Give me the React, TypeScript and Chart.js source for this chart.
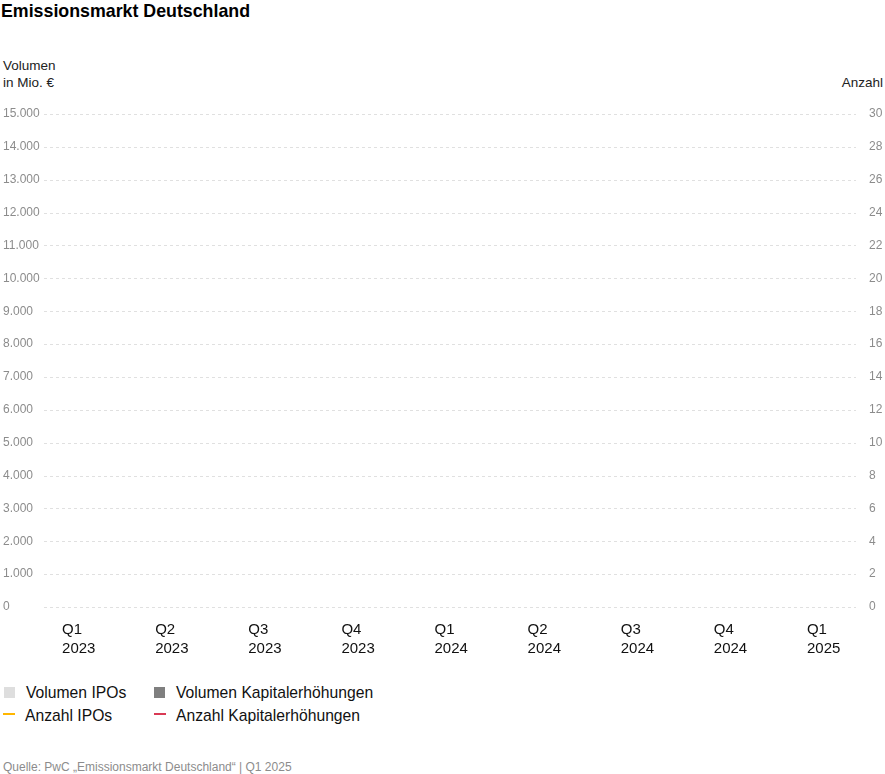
import React, { useEffect, useRef } from "react";
import { Chart, registerables } from "chart.js";

Chart.register(...registerables);

const FONT = '"Liberation Sans", Arial, Helvetica, sans-serif';

// Categories (quarters)
const quarters: string[] = ["Q1", "Q2", "Q3", "Q4", "Q1", "Q2", "Q3", "Q4", "Q1"];
const years: string[] = ["2023", "2023", "2023", "2023", "2024", "2024", "2024", "2024", "2025"];

// Series values as shown in the reference (nothing is drawn there)
const volumenIPOs: (number | null)[] = [null, null, null, null, null, null, null, null, null];
const volumenKapitalerhoehungen: (number | null)[] = [null, null, null, null, null, null, null, null, null];
const anzahlIPOs: (number | null)[] = [null, null, null, null, null, null, null, null, null];
const anzahlKapitalerhoehungen: (number | null)[] = [null, null, null, null, null, null, null, null, null];

// Axis ranges / steps
const volumeMax = 15000;
const volumeStep = 1000;
const countMax = 30;
const countStep = 2;

const seriesNames = ["Volumen IPOs", "Volumen Kapitalerhöhungen", "Anzahl IPOs", "Anzahl Kapitalerhöhungen"];
const seriesColors = ["#dedede", "#7f7f7f", "#ffb600", "#d93954"];

const fmtDE = (v: number) => String(v).replace(/\B(?=(\d{3})+(?!\d))/g, ".");

const dashedGrid = {
  id: "dashedGrid",
  beforeDatasetsDraw(chart: any) {
    const y = chart.scales.y;
    const ctx = chart.ctx;
    const { left, right } = chart.chartArea;
    ctx.save();
    ctx.strokeStyle = "#e0e0e0";
    ctx.lineWidth = 1;
    ctx.setLineDash([3, 3]);
    y.ticks.forEach((_t: any, i: number) => {
      const py = Math.round(y.getPixelForTick(i)) + 0.5;
      ctx.beginPath();
      ctx.moveTo(left + 13, py);
      ctx.lineTo(right - 13, py);
      ctx.stroke();
    });
    ctx.restore();
  },
};

function ChartCanvas() {
  const ref = useRef<HTMLCanvasElement | null>(null);
  useEffect(() => {
    if (!ref.current) return;
    Chart.defaults.font.family = FONT;
    const labels = quarters.map((q, i) => [q, years[i]]);
    const chart = new Chart(ref.current, {
      type: "bar",
      data: {
        labels,
        datasets: [
          { type: "bar", label: seriesNames[0], data: volumenIPOs, backgroundColor: seriesColors[0], yAxisID: "y", stack: "v", order: 2 },
          { type: "bar", label: seriesNames[1], data: volumenKapitalerhoehungen, backgroundColor: seriesColors[1], yAxisID: "y", stack: "v", order: 2 },
          { type: "line", label: seriesNames[2], data: anzahlIPOs, borderColor: seriesColors[2], backgroundColor: seriesColors[2], borderWidth: 2, pointRadius: 0, yAxisID: "y1", order: 1 },
          { type: "line", label: seriesNames[3], data: anzahlKapitalerhoehungen, borderColor: seriesColors[3], backgroundColor: seriesColors[3], borderWidth: 2, pointRadius: 0, yAxisID: "y1", order: 1 },
        ] as any,
      },
      options: {
        responsive: false,
        animation: false,
        layout: { padding: { top: 19, left: 3, right: 0, bottom: 0 } },
        plugins: { legend: { display: false }, title: { display: false }, tooltip: { enabled: false } },
        scales: {
          x: {
            type: "category",
            offset: true,
            stacked: true,
            grid: { display: false, drawTicks: false },
            border: { display: false },
            ticks: {
              align: "start",
              labelOffset: -15.5,
              padding: 14,
              color: "#111111",
              autoSkip: false,
              maxRotation: 0,
              minRotation: 0,
              font: { family: FONT, size: 15, lineHeight: 18.3 / 15 },
            },
            afterFit: (s: any) => {
              s.height = 68;
            },
          },
          y: {
            position: "left",
            min: 0,
            max: volumeMax,
            stacked: true,
            grid: { display: false, drawTicks: false },
            border: { display: false },
            ticks: {
              stepSize: volumeStep,
              mirror: true,
              padding: -28,
              color: "#8c8c8c",
              font: { family: FONT, size: 12 },
              callback: (v: any) => fmtDE(Number(v)),
            },
            afterFit: (s: any) => {
              s.width = 28;
            },
          },
          y1: {
            position: "right",
            min: 0,
            max: countMax,
            grid: { display: false, drawTicks: false },
            border: { display: false },
            ticks: {
              stepSize: countStep,
              crossAlign: "near",
              padding: 0,
              color: "#8c8c8c",
              font: { family: FONT, size: 12 },
            },
            afterFit: (s: any) => {
              s.width = 16;
            },
          },
        } as any,
      },
      plugins: [dashedGrid],
    });
    return () => chart.destroy();
  }, []);
  return (
    <canvas
      ref={ref}
      width={885}
      height={580}
      style={{ position: "absolute", left: 0, top: 95, width: 885, height: 580 }}
    />
  );
}

export default function App() {
  const abs = (s: React.CSSProperties): React.CSSProperties => ({ position: "absolute", whiteSpace: "nowrap", ...s });
  const legendItems = [
    { i: 0, x: 4, y: 682.4, kind: "box" },
    { i: 1, x: 154, y: 682.4, kind: "box" },
    { i: 2, x: 3, y: 704.7, kind: "line" },
    { i: 3, x: 154, y: 704.7, kind: "line" },
  ];
  return (
    <div
      style={{
        position: "absolute",
        left: 0,
        top: 0,
        width: 885,
        height: 774,
        background: "#ffffff",
        fontFamily: FONT,
        color: "#111111",
        overflow: "hidden",
      }}
    >
      <div style={abs({ left: 1, top: 0.6, fontSize: 17.8, lineHeight: "20px", fontWeight: 700, color: "#000" })}>
        Emissionsmarkt Deutschland
      </div>
      <div style={abs({ left: 3, top: 56.7, fontSize: 13.5, lineHeight: "17.3px", color: "#222" })}>
        Volumen
        <br />
        in Mio. €
      </div>
      <div style={abs({ right: 2, top: 73.7, fontSize: 13.5, lineHeight: "17.3px", color: "#222" })}>Anzahl</div>
      <ChartCanvas />
      {legendItems.map((it) => (
        <React.Fragment key={it.i}>
          {it.kind === "box" ? (
            <div style={abs({ left: it.x, top: it.y + 4.6, width: 11, height: 11, background: seriesColors[it.i] })} />
          ) : (
            <div style={abs({ left: it.x, top: it.y + 8.3, width: 12, height: 2, background: seriesColors[it.i] })} />
          )}
          <div style={abs({ left: it.x + 22, top: it.y, fontSize: 15.7, lineHeight: "21px", color: "#111" })}>
            {seriesNames[it.i]}
          </div>
        </React.Fragment>
      ))}
      <div style={abs({ left: 3, top: 759.5, fontSize: 12, lineHeight: "14px", color: "#8c8c8c" })}>
        Quelle: PwC „Emissionsmarkt Deutschland“ | Q1 2025
      </div>
    </div>
  );
}
